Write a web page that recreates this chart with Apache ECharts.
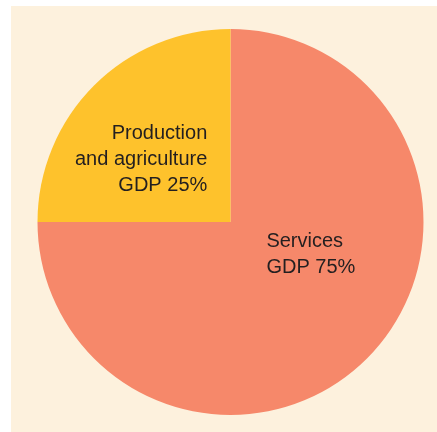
<!DOCTYPE html>
<html>
<head>
<meta charset="utf-8" />
<title>GDP share</title>
<script src="https://cdn.jsdelivr.net/npm/echarts@6/dist/echarts.min.js"></script>
<style>
  html, body { margin: 0; padding: 0; background: #ffffff; }
  #chart { width: 437px; height: 432px; }
</style>
</head>
<body>
<div id="chart"></div>
<script type="text/javascript">
// slices, clockwise from 12 o'clock
var sectors = ['Services', 'Production\nand agriculture'];
var shares = [75, 25];
var sliceColors = ['#f6886a', '#fec22c'];

var chart = echarts.init(document.getElementById('chart'));

// one rich style per text alignment
var txt = { color: '#231f20', fontFamily: 'Liberation Sans, Arial, sans-serif', fontSize: 20, lineHeight: 26 };

var option = {
  animation: false,
  graphic: [{
    type: 'rect',
    z: -10,
    shape: { x: 11, y: 6, width: 426, height: 426 },
    style: { fill: '#fdf1dd' }
  }],
  series: [{
    type: 'pie',
    center: [230.5, 222],
    radius: 193,
    startAngle: 90,
    clockwise: true,
    silent: true,
    labelLine: { show: false },
    data: [
      {
        name: sectors[0], value: shares[0],
        itemStyle: { color: sliceColors[0] },
        label: { offset: [10, -38] }
      },
      {
        name: sectors[1], value: shares[1],
        itemStyle: { color: sliceColors[1] },
        label: { offset: [-19, 8] }
      }
    ],
    label: {
      show: true,
      position: 'inside',
      formatter: function (p) {
        var tag = p.dataIndex === 1 ? 'r' : 'l';
        var lines = (p.name + '\nGDP ' + p.value + '%').split('\n');
        return lines.map(function (s) { return '{' + tag + '|' + s + '}'; }).join('\n');
      },
      rich: {
        l: Object.assign({ align: 'left' }, txt),
        r: Object.assign({ align: 'right' }, txt)
      }
    }
  }]
};
chart.setOption(option);
</script>
</body>
</html>
